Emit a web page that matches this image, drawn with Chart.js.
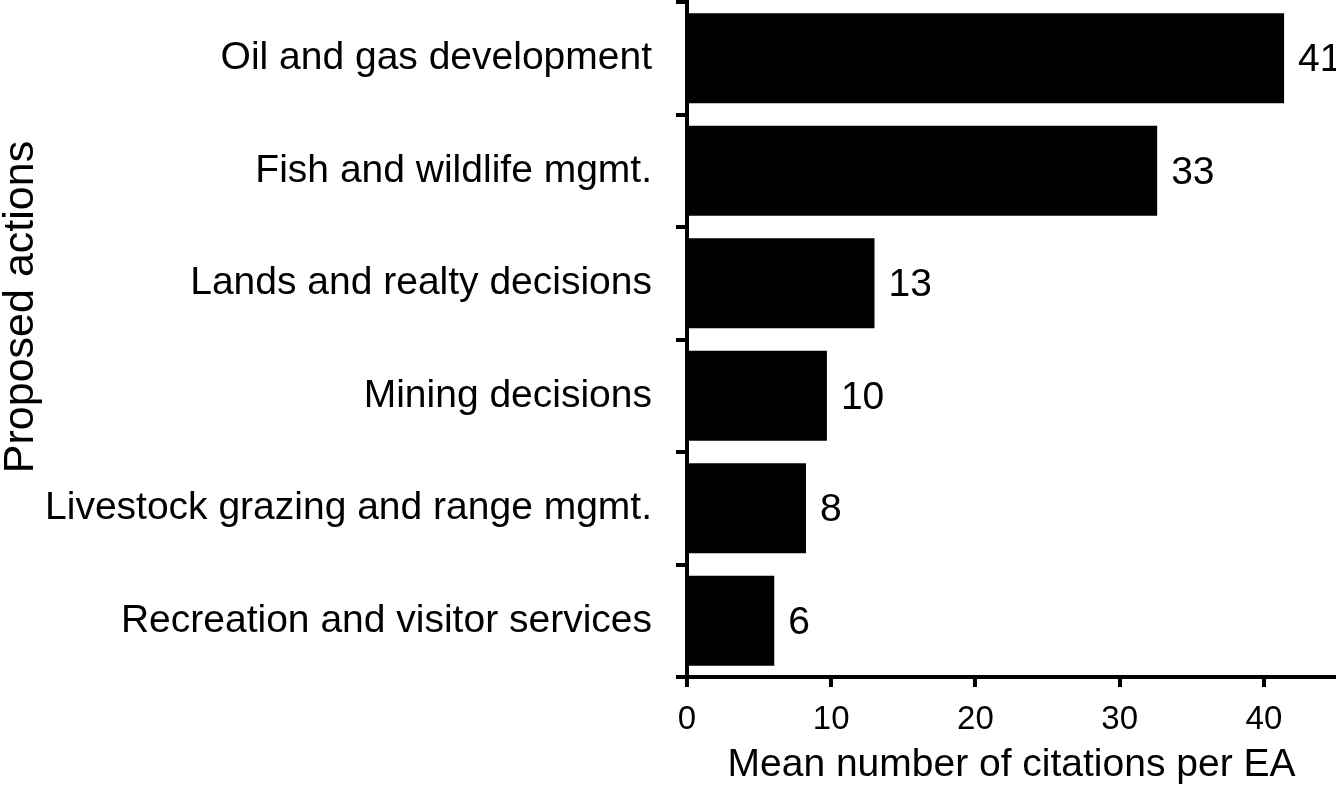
<!DOCTYPE html>
<html>
<head>
<meta charset="utf-8">
<script src="https://cdn.jsdelivr.net/npm/chart.js@4/dist/chart.umd.min.js"></script>
<style>
  html, body { margin: 0; padding: 0; background: #fff; }
  canvas { display: block; }
</style>
</head>
<body>
<canvas id="barChart" width="1336" height="789"></canvas>
<script>
// chart data
const categories = [
  'Oil and gas development',
  'Fish and wildlife mgmt.',
  'Lands and realty decisions',
  'Mining decisions',
  'Livestock grazing and range mgmt.',
  'Recreation and visitor services'
];
const meanCitations = [41.4, 32.6, 13.0, 9.7, 8.25, 6.05];
const valueLabels = ['41', '33', '13', '10', '8', '6'];
const xTicks = [0, 10, 20, 30, 40];

const FONT = "'Liberation Sans', Arial, Helvetica, sans-serif";

// Plugin to write the rounded value after each bar
const valueLabelPlugin = {
  id: 'valueLabels',
  afterDatasetsDraw(chart) {
    const ctx = chart.ctx;
    const meta = chart.getDatasetMeta(0);
    ctx.save();
    ctx.font = '39px ' + FONT;
    ctx.fillStyle = '#000';
    ctx.textAlign = 'left';
    ctx.textBaseline = 'middle';
    meta.data.forEach((bar, i) => {
      ctx.fillText(valueLabels[i], bar.x + 14, bar.y + 2);
    });
    ctx.restore();
  }
};

// Plugin for the rotated y axis title (sits a little above centre in the original)
const yTitlePlugin = {
  id: 'yTitle',
  afterDraw(chart) {
    const ctx = chart.ctx;
    ctx.save();
    ctx.translate(33, 307);
    ctx.rotate(-Math.PI / 2);
    ctx.font = '43px ' + FONT;
    ctx.fillStyle = '#000';
    ctx.textAlign = 'center';
    ctx.textBaseline = 'alphabetic';
    ctx.fillText('Proposed actions', 0, 0);
    ctx.restore();
  }
};

const config = {
  type: 'bar',
  data: {
    labels: categories,
    datasets: [{
      data: meanCitations,
      backgroundColor: '#000',
      borderWidth: 0,
      barPercentage: 0.8,
      categoryPercentage: 1.0
    }]
  },
  options: {
    indexAxis: 'y',
    responsive: false,
    animation: false,
    devicePixelRatio: 1,
    layout: { padding: { top: 2, right: 0, bottom: 0, left: 0 } },
    plugins: {
      legend: { display: false },
      tooltip: { enabled: false }
    },
    scales: {
      x: {
        min: 0,
        max: 45,
        afterBuildTicks(scale) {
          scale.ticks = xTicks.map(v => ({ value: v }));
        },
        afterFit(scale) {
          scale.height = 112;
        },
        ticks: {
          color: '#000',
          font: { family: FONT, size: 33 },
          padding: 13,
          maxRotation: 0
        },
        grid: {
          drawOnChartArea: false,
          color: '#000',
          lineWidth: 4,
          tickLength: 10
        },
        border: { color: '#000', width: 4 },
        title: {
          display: true,
          text: 'Mean number of citations per EA',
          color: '#000',
          font: { family: FONT, size: 39 },
          padding: { top: 0, bottom: 0 }
        }
      },
      y: {
        afterFit(scale) {
          scale.width = 687;
          // labels sit in the middle of each band, no extra room needed
          scale.paddingTop = 0;
          scale.paddingBottom = 0;
        },
        ticks: {
          color: '#000',
          font: { family: FONT, size: 39 },
          padding: 24
        },
        grid: {
          drawOnChartArea: false,
          offset: true,
          color: '#000',
          lineWidth: 4,
          tickLength: 11
        },
        border: { color: '#000', width: 4 }
      }
    }
  },
  plugins: [valueLabelPlugin, yTitlePlugin]
};

const ctx = document.getElementById('barChart').getContext('2d');
const barChart = new Chart(ctx, config);
</script>
</body>
</html>
